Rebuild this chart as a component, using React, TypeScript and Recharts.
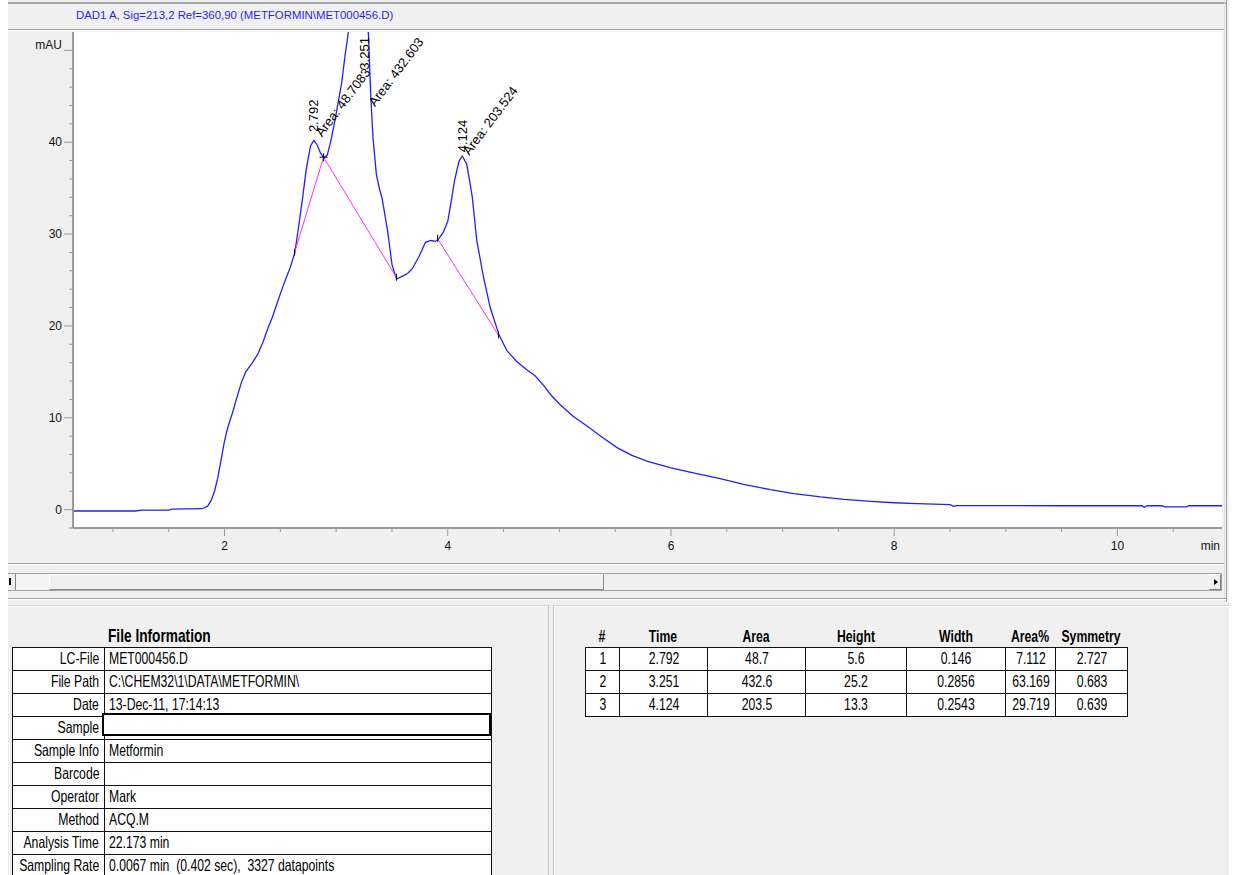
import {
  CartesianGrid,
  Line,
  LineChart,
  ReferenceDot,
  ReferenceLine,
  XAxis,
  YAxis,
} from "recharts";

// DAD1 A signal, [time (min), absorbance (mAU)]
const preInjection: [number, number][] = [
  [0.642, -0.15], [1.2, -0.15], [1.26, -0.05], [1.5, -0.05], [1.53, 0.05], [1.8, 0.1],
];

const peakCluster: [number, number][] = [
  [1.85, 0.4], [1.88, 1.0], [1.91, 2.0], [1.94, 3.5], [1.97, 5.5], [2.0, 7.5],
  [2.03, 9.0], [2.07, 10.5], [2.11, 12.2], [2.15, 13.8], [2.19, 15.0], [2.25, 16.0],
  [2.3, 17.0], [2.34, 18.1], [2.39, 19.8], [2.43, 21.0], [2.48, 22.8], [2.52, 24.2],
  [2.56, 25.5], [2.59, 26.4], [2.63, 28.0], [2.66, 30.5], [2.7, 34.0], [2.73, 36.9],
  [2.77, 39.6], [2.8, 40.2], [2.83, 39.7], [2.86, 38.8], [2.89, 38.3], [2.92, 38.6],
  [2.95, 40.0], [2.98, 41.8], [3.01, 43.8], [3.05, 46.5], [3.08, 49.5], [3.11, 52.0],
  [3.15, 54.5], [3.2, 56.0], [3.24, 56.3], [3.27, 55.0], [3.29, 51.5], [3.31, 45.0],
  [3.33, 40.5], [3.36, 36.5], [3.39, 34.8], [3.41, 34.0], [3.46, 30.4], [3.5, 26.7],
  [3.54, 25.1], [3.59, 25.4], [3.64, 25.7], [3.68, 26.2], [3.74, 27.5], [3.8, 29.1],
  [3.85, 29.3], [3.89, 29.2], [3.92, 29.5], [3.96, 30.2], [4.0, 31.4], [4.03, 33.5],
  [4.06, 35.8], [4.1, 37.9], [4.13, 38.5], [4.17, 37.6], [4.2, 35.5], [4.22, 34.0],
  [4.26, 29.3], [4.32, 25.3], [4.38, 22.0], [4.46, 19.0], [4.53, 17.3], [4.62, 16.1],
  [4.71, 15.2],
];

const tail: [number, number][] = [
  [4.78, 14.6], [4.86, 13.5], [4.93, 12.4], [5.01, 11.4], [5.12, 10.2], [5.25, 9.07],
  [5.38, 7.9], [5.52, 6.72], [5.65, 5.9], [5.79, 5.26], [6.0, 4.54], [6.2, 4.0],
  [6.45, 3.34], [6.65, 2.75], [6.89, 2.18], [7.1, 1.75], [7.34, 1.38], [7.55, 1.12],
  [7.79, 0.9], [8.0, 0.75], [8.2, 0.65], [8.5, 0.54], [8.53, 0.35], [8.56, 0.43],
  [9.0, 0.43], [9.5, 0.42], [10.0, 0.42], [10.22, 0.42], [10.24, 0.25], [10.27, 0.42],
  [10.4, 0.42], [10.42, 0.3], [10.62, 0.3], [10.64, 0.42], [10.937, 0.42],
];

// integration baselines (start / end points)
const baselines: [number, number, number, number][] = [
  [2.627, 27.97, 2.887, 38.37],
  [2.887, 38.37, 3.541, 25.26],
  [3.909, 29.49, 4.455, 18.97],
];
const baselineMarks: [number, number][] = [
  [2.627, 27.97], [3.541, 25.26], [3.909, 29.49], [4.455, 18.97],
];
const baselineCross: [number, number] = [2.887, 38.37];

// peak annotations
const rtLabels = ["2.792", "3.251", "4.124"];
const rtLabelAt: [number, number][] = [[2.8, 41.1], [3.257, 47.9], [4.13, 38.9]];
const areaLabels = ["Area: 48.7083", "Area: 432.603", "Area: 203.524"];
const areaLabelAt: [number, number][] = [[2.84, 40.8], [3.316, 44.1], [4.16, 38.8]];

const xDomain: [number, number] = [0.642, 10.937];
const yDomain: [number, number] = [-2, 52];
const xTicks = [1, 1.5, 2, 2.5, 3, 3.5, 4, 4.5, 5, 5.5, 6, 6.5, 7, 7.5, 8, 8.5, 9, 9.5, 10, 10.5];
const yTicks = [-2, 0, 2, 4, 6, 8, 10, 12, 14, 16, 18, 20, 22, 24, 26, 28, 30, 32, 34, 36, 38, 40, 42, 44, 46, 48, 50];

// file information
const infoLabels = ["LC-File", "File Path", "Date", "Sample", "Sample Info", "Barcode", "Operator", "Method", "Analysis Time", "Sampling Rate"];
const infoValues = ["MET000456.D", "C:\\CHEM32\\1\\DATA\\METFORMIN\\", "13-Dec-11, 17:14:13", "", "Metformin", "", "Mark", "ACQ.M", "22.173 min", "0.0067 min  (0.402 sec),  3327 datapoints"];

// peak table
const peakHeaders = ["#", "Time", "Area", "Height", "Width", "Area%", "Symmetry"];
const peakNo = ["1", "2", "3"];
const peakTime = ["2.792", "3.251", "4.124"];
const peakArea = ["48.7", "432.6", "203.5"];
const peakHeight = ["5.6", "25.2", "13.3"];
const peakWidth = ["0.146", "0.2856", "0.2543"];
const peakAreaPct = ["7.112", "63.169", "29.719"];
const peakSymmetry = ["2.727", "0.683", "0.639"];

const trace = [...preInjection, ...peakCluster, ...tail].map(([t, v]) => ({ t, v }));

const ui = "'Liberation Sans', Arial, sans-serif";
const axisGray = "#9a9a9a";

function XTick({ x, y, payload }: any) {
  const v = payload.value;
  const major = Number.isInteger(v) && v % 2 === 0;
  return (
    <g>
      <line x1={x} x2={x} y1={y} y2={y + (major ? 8 : 4)} stroke={axisGray} />
      {major && (
        <text x={x} y={y + 18} textAnchor="middle" dominantBaseline="central" fontSize={12} fontFamily={ui} fill="#111">
          {v}
        </text>
      )}
    </g>
  );
}

function YTick({ x, y, payload }: any) {
  const v = payload.value;
  const major = v >= 0 && v % 10 === 0;
  const label = v === 50 ? "mAU" : major ? String(v) : "";
  return (
    <g>
      <line x1={x - (major ? 9 : 4)} x2={x} y1={y} y2={y} stroke={axisGray} />
      {label && (
        <text x={x - 11} y={v === 50 ? y - 5 : y} textAnchor="end" dominantBaseline="central" fontSize={12} fontFamily={ui} fill="#111">
          {label}
        </text>
      )}
    </g>
  );
}

const rotatedText = (text: string, angle: number) => (p: any) => (
  <text
    transform={`translate(${p.cx},${p.cy}) rotate(${angle})`}
    fontSize={13}
    fontFamily={ui}
    fill="#000"
    dominantBaseline="central"
  >
    {text}
  </text>
);

const tickMark = (p: any) => (
  <line x1={p.cx} x2={p.cx} y1={p.cy - 4} y2={p.cy + 3} stroke="#000" />
);
const crossMark = (p: any) => (
  <g stroke="#000">
    <line x1={p.cx} x2={p.cx} y1={p.cy - 4} y2={p.cy + 4} />
    <line x1={p.cx - 4} x2={p.cx + 4} y1={p.cy} y2={p.cy} />
  </g>
);

function Chromatogram() {
  return (
    <LineChart width={1241} height={562} data={trace} margin={{ top: 32, right: 19, bottom: 0, left: 13 }}>
      <CartesianGrid horizontal={false} vertical={false} fill="#ffffff" stroke="none" />
      <XAxis
        dataKey="t"
        type="number"
        domain={xDomain}
        allowDataOverflow
        ticks={xTicks}
        interval={0}
        tick={<XTick />}
        tickLine={false}
        tickSize={0}
        tickMargin={0}
        height={34}
        axisLine={{ stroke: axisGray, strokeWidth: 2 }}
      />
      <YAxis
        type="number"
        domain={yDomain}
        allowDataOverflow
        ticks={yTicks}
        interval={0}
        tick={<YTick />}
        tickLine={false}
        tickSize={0}
        tickMargin={0}
        width={60}
        axisLine={{ stroke: axisGray, strokeWidth: 2 }}
      />
      <Line dataKey="v" type="linear" stroke="#1f1fff" strokeWidth={1.3} dot={false} isAnimationActive={false} />
      {baselines.map(([x1, y1, x2, y2], i) => (
        <ReferenceLine key={`b${i}`} segment={[{ x: x1, y: y1 }, { x: x2, y: y2 }]} stroke="#ff2cff" strokeWidth={1} />
      ))}
      {baselineMarks.map(([x, y], i) => (
        <ReferenceDot key={`m${i}`} x={x} y={y} r={0} shape={tickMark} />
      ))}
      <ReferenceDot x={baselineCross[0]} y={baselineCross[1]} r={0} shape={crossMark} />
      {rtLabels.map((s, i) => (
        <ReferenceDot key={`rt${i}`} x={rtLabelAt[i][0]} y={rtLabelAt[i][1]} r={0} ifOverflow="visible" shape={rotatedText(s, -90)} />
      ))}
      {areaLabels.map((s, i) => (
        <ReferenceDot key={`ar${i}`} x={areaLabelAt[i][0]} y={areaLabelAt[i][1]} r={0} ifOverflow="visible" shape={rotatedText(s, -53)} />
      ))}
    </LineChart>
  );
}

const abs = (left: number, top: number, width: number, height: number, extra: any = {}) => ({
  position: "absolute" as const,
  left,
  top,
  width,
  height,
  boxSizing: "border-box" as const,
  ...extra,
});

// condensed text, like the instrument's table font; placed by its left, right or centre
function Narrow({ children, align = "left", pad = 0 }: { children: any; align?: "left" | "right" | "center"; pad?: number }) {
  const place =
    align === "left"
      ? { left: pad, transformOrigin: "left" }
      : align === "right"
      ? { right: pad, transformOrigin: "right" }
      : { left: "50%", transformOrigin: "left", translate: "-50% 0" };
  return (
    <span
      style={{
        position: "absolute",
        top: 0,
        whiteSpace: "pre",
        transform: align === "center" ? "scaleX(0.74) translateX(-50%)" : "scaleX(0.74)",
        ...place,
        ...(align === "center" ? { translate: undefined } : {}),
      }}
    >
      {children}
    </span>
  );
}

const cellText = { fontFamily: ui, fontSize: 16.5, lineHeight: "21px", color: "#000" };

function InfoTable() {
  const top = 647;
  const rowH = 23;
  return (
    <>
      <div style={abs(108, 625, 200, 22, { fontFamily: ui, fontWeight: "bold", fontSize: 18.5, lineHeight: "22px", color: "#000" })}>
        <Narrow>File Information</Narrow>
      </div>
      {infoLabels.map((lab, i) => (
        <div key={lab}>
          <div
            style={abs(12, top + i * rowH, 93, rowH + 1, {
              ...cellText,
              border: "1px solid #111",
              background: "#fff",
            })}
          >
            <Narrow align="right" pad={5}>{lab}</Narrow>
          </div>
          <div
            style={abs(104, top + i * rowH, 388, rowH + 1, {
              ...cellText,
              border: "1px solid #111",
              background: "#fff",
            })}
          >
            <Narrow pad={4}>{infoValues[i]}</Narrow>
          </div>
        </div>
      ))}
      <div style={abs(102, 713, 389, 23, { border: "2px solid #000", background: "#fff" })} />
    </>
  );
}

function PeakTable() {
  const cols = [585, 619, 707, 805, 906, 1005, 1055, 1127];
  const rows = [peakNo, peakTime, peakArea, peakHeight, peakWidth, peakAreaPct, peakSymmetry];
  const top = 647;
  const rowH = 23;
  return (
    <>
      {peakHeaders.map((h, c) => (
        <div
          key={h}
          style={abs(cols[c], 625, cols[c + 1] - cols[c], 22, {
            fontFamily: ui,
            fontWeight: "bold",
            fontSize: 16.5,
            lineHeight: "22px",
          })}
        >
          <Narrow align="center">{h}</Narrow>
        </div>
      ))}
      {peakNo.map((_, r) =>
        rows.map((col, c) => (
          <div
            key={`${r}-${c}`}
            style={abs(cols[c], top + r * rowH, cols[c + 1] - cols[c] + 1, rowH + 1, {
              ...cellText,
              border: "1px solid #111",
              background: "#fff",
            })}
          >
            <Narrow align="center">{col[r]}</Narrow>
          </div>
        ))
      )}
    </>
  );
}

export default function App() {
  return (
    <div style={{ position: "absolute", left: 0, top: 0, width: 1241, height: 875, background: "#ffffff", overflow: "hidden" }}>
      {/* window body */}
      <div style={abs(8, 0, 1221, 875, { background: "#f0f0f0" })} />
      <div style={abs(8, 2, 1219, 2, { background: "#a8a8a8" })} />
      <div style={abs(1226, 0, 1, 602, { background: "#a0a0a0" })} />
      <div style={abs(1224, 0, 1, 602, { background: "#dcdcdc" })} />
      {/* signal title */}
      <div style={abs(76, 8, 600, 15, { fontFamily: ui, fontSize: 11.4, lineHeight: "15px", color: "#1f1fff", whiteSpace: "pre" })}>
        {"DAD1 A, Sig=213,2 Ref=360,90 (METFORMIN\\MET000456.D)"}
      </div>
      <div style={abs(8, 29, 1216, 1, { background: "#a0a0a0" })} />
      <div style={abs(8, 30, 1216, 1, { background: "#ffffff" })} />

      <div style={{ position: "absolute", left: 0, top: 0 }}>
        <Chromatogram />
      </div>
      <div style={abs(1180, 538, 40, 16, { fontFamily: ui, fontSize: 12, lineHeight: "16px", textAlign: "right", color: "#111" })}>min</div>

      {/* scrollbar */}
      <div style={abs(8, 563, 1216, 1, { background: "#a0a0a0" })} />
      <div style={abs(8, 564, 1216, 1, { background: "#ffffff" })} />
      <div style={abs(8, 573, 1214, 18, { borderTop: "1px solid #a0a0a0", borderBottom: "1px solid #a0a0a0", borderRight: "1px solid #a0a0a0", background: "#f0f0f0" })} />
      <div style={abs(8, 574, 8, 16, { borderRight: "1px solid #808080" })} />
      <div style={abs(9, 578, 2, 7, { background: "#000" })} />
      <div style={abs(16, 574, 33, 16, { background: "#f4f4f4" })} />
      <div style={abs(49, 574, 555, 16, { borderLeft: "1px solid #ffffff", borderTop: "1px solid #ffffff", borderRight: "1px solid #8a8a8a", borderBottom: "1px solid #8a8a8a", background: "#f0f0f0" })} />
      <div style={abs(1209, 574, 12, 16, { borderLeft: "1px solid #ffffff", borderTop: "1px solid #ffffff", borderRight: "1px solid #808080", borderBottom: "1px solid #808080" })} />
      <div style={abs(1214, 579, 0, 0, { borderTop: "3px solid transparent", borderBottom: "3px solid transparent", borderLeft: "4px solid #000" })} />
      <div style={abs(8, 598, 1218, 1, { background: "#a0a0a0" })} />
      <div style={abs(8, 599, 1218, 1, { background: "#ffffff" })} />

      {/* lower panels */}
      <div style={abs(8, 605, 541, 270, { borderTop: "1px solid #d6d6d6", borderRight: "1px solid #c8c8c8", boxShadow: "inset 0 1px 0 #ffffff" })} />
      <div style={abs(553, 605, 676, 270, { borderTop: "1px solid #d6d6d6", borderLeft: "1px solid #c8c8c8", boxShadow: "inset 1px 1px 0 #ffffff" })} />
      <InfoTable />
      <PeakTable />
    </div>
  );
}
